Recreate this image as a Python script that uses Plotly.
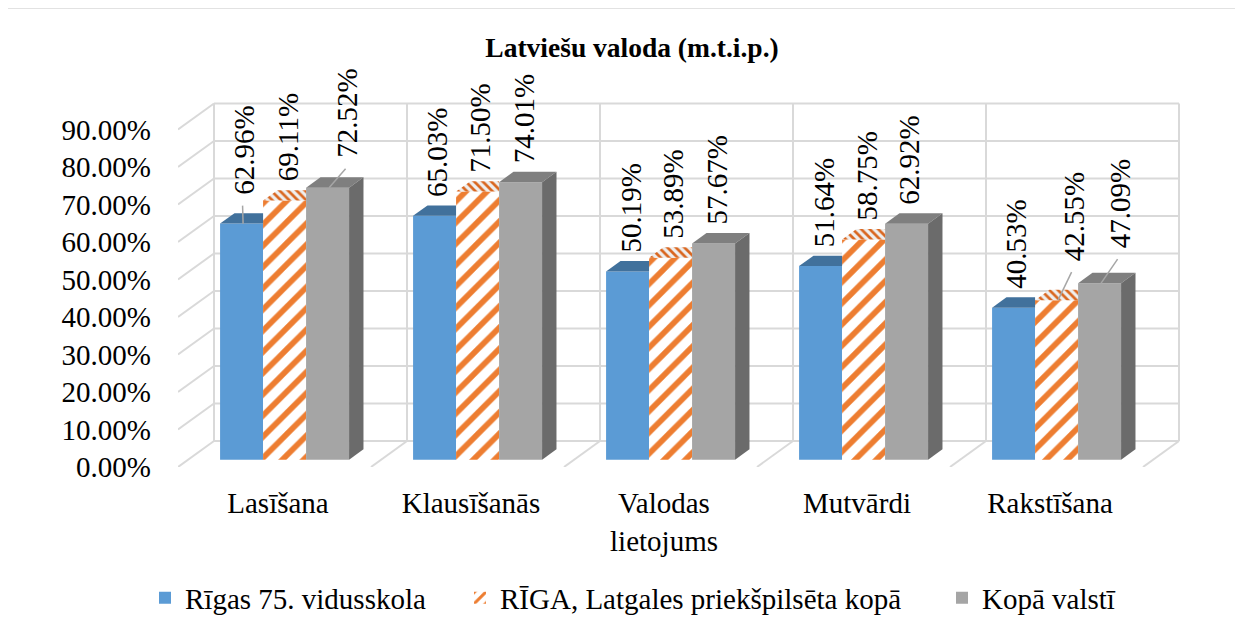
import plotly.graph_objects as go

# ---------------- data ----------------
categories = ["Lasīšana", "Klausīšanās", "Valodas<br>lietojums", "Mutvārdi", "Rakstīšana"]
series_names = ["Rīgas 75. vidusskola", "RĪGA, Latgales priekšpilsēta kopā", "Kopā valstī"]
school = [62.96, 65.03, 50.19, 51.64, 40.53]
riga = [69.11, 71.50, 53.89, 58.75, 42.55]
country = [72.52, 74.01, 57.67, 62.92, 47.09]
y_ticks = [0, 10, 20, 30, 40, 50, 60, 70, 80, 90]
y_tick_labels = ["0.00%", "10.00%", "20.00%", "30.00%", "40.00%",
                 "50.00%", "60.00%", "70.00%", "80.00%", "90.00%"]
title_text = "Latviešu valoda (m.t.i.p.)"

series = [school, riga, country]

# ---------------- geometry / style ----------------
OFF = 8                      # page body margin
W, H = 1243 - OFF, 633 - OFF
L = 178 - OFF
T = 55 - OFF
R = W - (1220 - OFF)
B = H - (467 - OFF)
PX_X = 193.0          # px per category
PX_Y = 3.75           # px per percent
XMAX = (W - L - R) / PX_X
YMAX = (H - T - B) / PX_Y
DX = 36 / PX_X        # full depth offset (x units)
DY = 26 / PX_Y        # full depth offset (y units)
Z0, Z1 = 0.28, 0.68   # bar depth range
BW = 43 / PX_X
GL = (1 - 3 * BW) / 2
FONT = "Liberation Serif, Times New Roman, Tinos, DejaVu Serif, serif"
FS = 29
GRID = "#D9D9D9"

front_colors = ["#5B9BD5", "#ED7D31", "#A5A5A5"]
top_colors = ["#41719C", "#ED7D31", "#7F7F7F"]
side_color = "#6B6B6B"

# label offsets (px): (dx, gap above top)
default_off = (3, 17)
label_off = {(0, 0): (3, 27), (2, 0): (20, 28), (1, 4): (17, 37), (2, 4): (20, 33)}

fig = go.Figure()

legend_ids = ["legend", "legend2", "legend3"]
for k, vals in enumerate(series):
    xs = [i + GL + k * BW + BW / 2 + Z0 * DX for i in range(len(categories))]
    marker = dict(color=front_colors[k], line=dict(width=0))
    if k == 1:
        marker = dict(color="#ED7D31", line=dict(width=0),
                      pattern=dict(shape="/", fgcolor="#ED7D31", bgcolor="white",
                                   fgopacity=1, fillmode="replace",
                                   size=15, solidity=0.38))
    fig.add_trace(go.Bar(x=xs, y=vals, base=[Z0 * DY] * len(vals), width=BW,
                         marker=marker, name=series_names[k], legend=legend_ids[k],
                         hoverinfo="skip"))

# tops and sides
d = (Z1 - Z0) * DX
h = (Z1 - Z0) * DY
for k, vals in enumerate(series):
    for i, v in enumerate(vals):
        xl = i + GL + k * BW + Z0 * DX
        xr = xl + BW
        t = v + Z0 * DY
        if k < 2:
            px = [xl, xr, xr, xl + d, xl]
            py = [t, t, t + h, t + h, t]
        else:
            px = [xl, xr, xr + d, xl + d, xl]
            py = [t, t, t + h, t + h, t]
        kw = dict(fillcolor=top_colors[k])
        if k == 1:
            kw = dict(fillcolor="white",
                      fillpattern=dict(shape="\\", fgcolor="#D9661F", bgcolor="#EFEFEF",
                                       fgopacity=1, fillmode="replace",
                                       size=6, solidity=0.45))
        fig.add_trace(go.Scatter(x=px, y=py, mode="lines", fill="toself",
                                 line=dict(width=0, color=top_colors[k]),
                                 showlegend=False, hoverinfo="skip", **kw))
        if k == 2:
            b = Z0 * DY
            sx = [xr, xr + d, xr + d, xr, xr]
            sy = [b, b + h, t + h, t, b]
            fig.add_trace(go.Scatter(x=sx, y=sy, mode="lines", fill="toself",
                                     fillcolor=side_color,
                                     line=dict(width=0, color=side_color),
                                     showlegend=False, hoverinfo="skip"))

shapes = []
ncat = len(categories)
# back wall horizontal gridlines + left wall diagonals
for tv in y_ticks:
    shapes.append(dict(type="line", xref="x", yref="y", x0=DX, x1=ncat + DX,
                       y0=tv + DY, y1=tv + DY, line=dict(color=GRID, width=2), layer="below"))
    shapes.append(dict(type="line", xref="x", yref="y", x0=0, x1=DX,
                       y0=tv, y1=tv + DY, line=dict(color=GRID, width=2), layer="below"))
# back wall verticals + floor diagonals
for kk in range(ncat + 1):
    shapes.append(dict(type="line", xref="x", yref="y", x0=kk + DX, x1=kk + DX,
                       y0=DY, y1=y_ticks[-1] + DY, line=dict(color=GRID, width=2), layer="below"))
    if kk > 0:
        shapes.append(dict(type="line", xref="x", yref="y", x0=kk, x1=kk + DX,
                           y0=0, y1=DY, line=dict(color=GRID, width=2), layer="below"))

# data labels
annotations = []
for k, vals in enumerate(series):
    for i, v in enumerate(vals):
        xc = i + GL + k * BW + BW / 2 + Z0 * DX
        top = v + Z0 * DY
        dxp, gap = label_off.get((k, i), default_off)
        ax = xc + dxp / PX_X
        ay = top + gap / PX_Y
        annotations.append(dict(x=ax, y=ay, xref="x", yref="y", text=f"{v:.2f}%",
                                showarrow=False, textangle=-90, xanchor="center",
                                yanchor="bottom", font=dict(family=FONT, size=FS, color="black")))
        if (k, i) in label_off:
            shapes.append(dict(type="line", xref="x", yref="y",
                               x0=xc + 1.5 / PX_X, y0=top,
                               x1=ax - 2 / PX_X, y1=ay - 9 / PX_Y,
                               line=dict(color="#A6A6A6", width=1.5), layer="above"))

# outer border (reference pixel coords)
pw = W - L - R
ph = H - T - B
bottom_px = H - B
def px2paper_x(px):
    return (px - OFF - L) / pw
def px2paper_y(py):
    return (bottom_px - (py - OFF)) / ph
shapes.append(dict(type="rect", xref="paper", yref="paper",
                   x0=px2paper_x(3), x1=px2paper_x(1239),
                   y0=px2paper_y(660), y1=px2paper_y(8),
                   line=dict(color=GRID, width=1.5), layer="below"))

leg_common = dict(orientation="h", xref="container", yref="container",
                  y=1 - (598 - OFF) / H,
                  yanchor="middle", xanchor="left", bgcolor="rgba(0,0,0,0)",
                  font=dict(family=FONT, size=FS, color="black"))

fig.update_layout(
    width=W, height=H, autosize=False,
    margin=dict(l=L, r=R, t=T, b=B, pad=0),
    plot_bgcolor="white", paper_bgcolor="white",
    barmode="overlay",
    title=dict(text=f"<b>{title_text}</b>", xref="container", x=(632 - OFF) / W,
               yref="container", y=1 - (47 - OFF) / H, xanchor="center", yanchor="middle",
               font=dict(family=FONT, size=27.5, color="black")),
    xaxis=dict(range=[0, XMAX], showgrid=False, zeroline=False, showline=False,
               tickvals=[i + 0.5 + 3.5 / PX_X for i in range(ncat)], ticktext=categories,
               ticks="", ticklabelstandoff=16,
               tickfont=dict(family=FONT, size=FS, color="black")),
    yaxis=dict(range=[0, YMAX], showgrid=False, zeroline=False, showline=False,
               tickvals=y_ticks, ticktext=y_tick_labels, ticks="", ticklabelstandoff=26,
               tickfont=dict(family=FONT, size=FS, color="black")),
    shapes=shapes,
    annotations=annotations,
    legend=dict(x=(145 - OFF) / W, **leg_common),
    legend2=dict(x=(460 - OFF) / W, **leg_common),
    legend3=dict(x=(942 - OFF) / W, **leg_common),
)

fig.write_html("out.html")
